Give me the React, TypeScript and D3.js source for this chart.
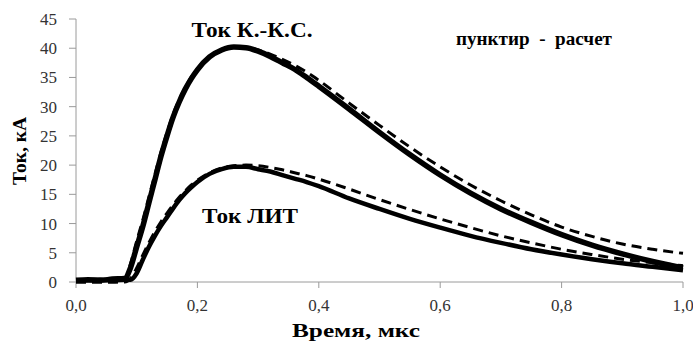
import React, { useEffect, useRef } from "react";
import * as d3 from "d3";

// время, мкс
const time = [
  0, 0.02, 0.04, 0.06, 0.08, 0.09, 0.1, 0.11, 0.12, 0.13, 0.14, 0.15, 0.16,
  0.17, 0.18, 0.19, 0.2, 0.22, 0.24, 0.26, 0.28, 0.3, 0.32, 0.34, 0.36, 0.38,
  0.4, 0.45, 0.5, 0.55, 0.6, 0.65, 0.7, 0.75, 0.8, 0.85, 0.9, 0.95, 1.0,
];

// ток К.-К.С., эксперимент
const kksMeasured = [
  0.3, 0.4, 0.3, 0.5, 0.6, 2.5, 6, 9.5, 13.5, 17.5, 21.5, 25, 28.2, 30.8, 33,
  34.8, 36.3, 38.5, 39.7, 40.2, 40.1, 39.5, 38.6, 37.5, 36.4, 35, 33.5, 29.6,
  25.6, 21.8, 18.3, 15.2, 12.5, 10.2, 8.1, 6.3, 4.8, 3.5, 2.4,
];

// ток К.-К.С., расчет
const kksCalc = [
  0, 0, 0, 0, 0.2, 3.2, 7, 10.6, 14.5, 18.4, 22.2, 25.6, 28.7, 31.2, 33.3,
  35.1, 36.5, 38.6, 39.8, 40.2, 40.1, 39.7, 39, 38.1, 37.1, 35.9, 34.5, 30.6,
  26.8, 23.1, 19.7, 16.6, 13.9, 11.5, 9.4, 7.8, 6.5, 5.6, 4.9,
];

// ток ЛИТ, эксперимент
const litMeasured = [
  0.3, 0.3, 0.4, 0.3, 0.4, 0.4, 1.5, 3.8, 6, 7.9, 9.6, 11.1, 12.6, 14, 15.2,
  16.2, 17.1, 18.5, 19.3, 19.7, 19.7, 19.3, 18.9, 18.3, 17.7, 17.1, 16.4, 14.3,
  12.5, 10.8, 9.3, 7.9, 6.7, 5.6, 4.7, 3.9, 3.2, 2.6, 2.0,
];

// ток ЛИТ, расчет
const litCalc = [
  0, 0, 0, 0, 0, 0.6, 2.4, 4.6, 6.7, 8.6, 10.3, 11.8, 13.2, 14.5, 15.6, 16.6,
  17.4, 18.7, 19.5, 19.9, 20, 19.9, 19.6, 19.2, 18.7, 18.2, 17.6, 15.9, 14.1,
  12.4, 10.8, 9.3, 7.9, 6.7, 5.6, 4.7, 3.9, 3.3, 2.8,
];

const xTicks = [0, 0.2, 0.4, 0.6, 0.8, 1.0];
const yTicks = [0, 5, 10, 15, 20, 25, 30, 35, 40, 45];

const App = () => {
  const svgRef = useRef<SVGSVGElement>(null);

  useEffect(() => {
    document.body.style.margin = "0";
    const width = 693;
    const height = 342;
    const margin = { top: 19, right: 10, bottom: 60, left: 76 };

    const svg = d3.select(svgRef.current);
    svg.selectAll("*").remove();
    svg.attr("width", width).attr("height", height);

    const x = d3.scaleLinear().domain([0, 1]).range([margin.left, 683]);
    const y = d3.scaleLinear().domain([0, 45]).range([282, margin.top]);

    const font = "'Liberation Serif', 'Times New Roman', serif";

    // оси
    const axis = svg.append("g").attr("stroke", "#9a9a9a").attr("stroke-width", 1);
    axis
      .append("line")
      .attr("x1", x(0))
      .attr("x2", x(0))
      .attr("y1", y(45))
      .attr("y2", y(0));
    axis
      .append("line")
      .attr("x1", x(0))
      .attr("x2", x(1))
      .attr("y1", y(0))
      .attr("y2", y(0));
    axis
      .selectAll(".yt")
      .data(yTicks)
      .join("line")
      .attr("x1", x(0) - 7)
      .attr("x2", x(0))
      .attr("y1", (d) => y(d))
      .attr("y2", (d) => y(d));
    axis
      .selectAll(".xt")
      .data(xTicks)
      .join("line")
      .attr("x1", (d) => x(d))
      .attr("x2", (d) => x(d))
      .attr("y1", y(0))
      .attr("y2", y(0) + 6);

    svg
      .append("g")
      .selectAll("text")
      .data(yTicks)
      .join("text")
      .attr("x", 57)
      .attr("y", (d) => y(d) + 6)
      .attr("text-anchor", "end")
      .style("font-family", font)
      .attr("font-size", 17)
      .attr("fill", "#333")
      .text((d) => String(d));

    svg
      .append("g")
      .selectAll("text")
      .data(xTicks)
      .join("text")
      .attr("x", (d) => x(d))
      .attr("y", 311)
      .attr("text-anchor", "middle")
      .style("font-family", font)
      .attr("font-size", 17)
      .attr("fill", "#333")
      .text((d) => d.toFixed(1).replace(".", ","));

    const pts = (vals: number[]) => time.map((t, i) => [t, vals[i]] as [number, number]);
    const line = d3
      .line<[number, number]>()
      .x((d) => x(d[0]))
      .y((d) => y(d[1]))
      .curve(d3.curveMonotoneX);

    // расчет - пунктир
    [kksCalc, litCalc].forEach((vals) => {
      svg
        .append("path")
        .datum(pts(vals))
        .attr("fill", "none")
        .attr("stroke", "#000")
        .attr("stroke-width", 3)
        .attr("stroke-dasharray", "10,6")
        .attr("d", line);
    });

    // эксперимент
    svg
      .append("path")
      .datum(pts(kksMeasured))
      .attr("fill", "none")
      .attr("stroke", "#000")
      .attr("stroke-width", 5.5)
      .attr("d", line);
    svg
      .append("path")
      .datum(pts(litMeasured))
      .attr("fill", "none")
      .attr("stroke", "#000")
      .attr("stroke-width", 4.5)
      .attr("d", line);

    const label = (
      txt: string,
      lx: number,
      ly: number,
      size: number,
      len: number,
      rotate = false
    ) => {
      const t = svg
        .append("text")
        .attr("x", lx)
        .attr("y", ly)
        .attr("text-anchor", "middle")
        .style("font-family", font)
        .style("white-space", "pre")
        .attr("font-weight", "bold")
        .attr("font-size", size)
        .attr("fill", "#000")
        .attr("textLength", len)
        .attr("lengthAdjust", "spacingAndGlyphs")
        .text(txt);
      if (rotate) t.attr("transform", `rotate(-90, ${lx}, ${ly})`);
    };

    label("Ток К.-К.С.", 252, 37, 20, 121);
    label("пунктир  -  расчет", 534, 45, 18, 156);
    label("Ток ЛИТ", 250, 223, 20, 96);
    label("Время, мкс", 356, 337, 18, 128);
    label("Ток, кА", 26, 151, 19, 68, true);
  }, []);

  return <svg ref={svgRef}></svg>;
};

export default App;
